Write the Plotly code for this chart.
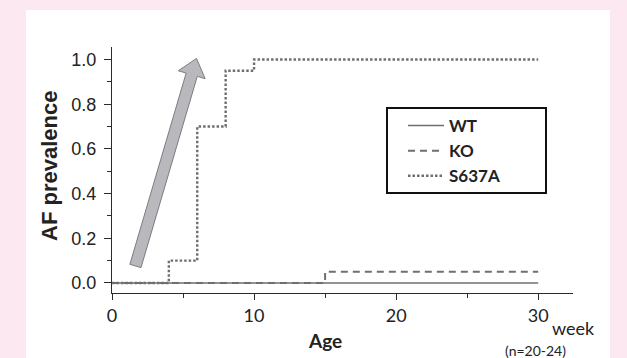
import plotly.graph_objects as go

# ---- data ----
wt_age = [0, 30]
wt_prev = [0.0, 0.0]
ko_age = [0, 15, 30]
ko_prev = [0.0, 0.05, 0.05]
s637a_age = [0, 4, 6, 8, 10, 30]
s637a_prev = [0.0, 0.1, 0.7, 0.95, 1.0, 1.0]

x_ticks = [0, 10, 20, 30]
y_ticks = [0.0, 0.2, 0.4, 0.6, 0.8, 1.0]
y_tick_labels = ["0.0", "0.2", "0.4", "0.6", "0.8", "1.0"]

# ---- layout geometry ----
W, H = 627, 358
ML, MR, MT, MB = 112, 54, 47, 65
XR = [0, 32.45]
YR = [-0.045, 1.056]
PW = W - ML - MR
PH = H - MT - MB

def to_px(x, y):
    return (ML + (x - XR[0]) / (XR[1] - XR[0]) * PW,
            MT + (YR[1] - y) / (YR[1] - YR[0]) * PH)

def to_data(px, py):
    return (XR[0] + (px - ML) / PW * (XR[1] - XR[0]),
            YR[1] - (py - MT) / PH * (YR[1] - YR[0]))

def px_x(p):
    return (p - ML) / PW

def px_y(p):
    return (H - MB - p) / PH

# big gray arrow (decoration) tail / tip in data units
ARROW_TAIL = (1.65, 0.076)
ARROW_TIP = (5.95, 1.005)

def arrow_path(tail, tip, shaft=5.8, head=14.0, head_len=17.0):
    tx, ty = to_px(*tail)
    hx, hy = to_px(*tip)
    dx, dy = hx - tx, hy - ty
    L = (dx * dx + dy * dy) ** 0.5
    ux, uy = dx / L, dy / L
    nx, ny = -uy, ux
    bx, by = hx - ux * head_len, hy - uy * head_len
    pts = [
        (tx + nx * shaft, ty + ny * shaft),
        (bx + nx * shaft, by + ny * shaft),
        (bx + nx * head, by + ny * head),
        (hx, hy),
        (bx - nx * head, by - ny * head),
        (bx - nx * shaft, by - ny * shaft),
        (tx - nx * shaft, ty - ny * shaft),
    ]
    dpts = [to_data(*p) for p in pts]
    return "M " + " L ".join(f"{x:.4f},{y:.4f}" for x, y in dpts) + " Z"

LINE_C = "#6f6f6f"
AXIS_C = "#2b2b2b"
TEXT_C = "#222222"

fig = go.Figure()
fig.add_trace(go.Scatter(x=wt_age, y=wt_prev, mode="lines", name="WT",
                         line=dict(color=LINE_C, width=1.6, shape="hv"),
                         legendgroup="a"))
fig.add_trace(go.Scatter(x=ko_age, y=ko_prev, mode="lines", name="KO",
                         line=dict(color=LINE_C, width=2, dash="7px,5px", shape="hv"),
                         legendgroup="b"))
fig.add_trace(go.Scatter(x=s637a_age, y=s637a_prev, mode="lines", name="S637A",
                         line=dict(color=LINE_C, width=2.4, dash="2.5px,2px", shape="hv"),
                         legendgroup="c"))

fig.update_layout(
    width=W, height=H,
    margin=dict(l=ML, r=MR, t=MT, b=MB, pad=0),
    paper_bgcolor="#fce8f1",
    plot_bgcolor="white",
    showlegend=True,
    legend=dict(
        x=px_x(403), y=px_y(108),
        xanchor="left", yanchor="top",
        bgcolor="rgba(0,0,0,0)", borderwidth=0,
        font=dict(family="Lato", size=17, color=TEXT_C, weight="bold"),
        traceorder="grouped", tracegroupgap=0,
        itemwidth=36,
    ),
    xaxis=dict(
        range=XR, tickvals=x_ticks, ticktext=[str(v) for v in x_ticks],
        showline=True, linecolor=AXIS_C, linewidth=1.4,
        ticks="outside", ticklen=6, tickcolor=AXIS_C, tickwidth=1.4,
        minor=dict(dtick=5, tick0=0, ticks="outside", ticklen=4,
                   tickcolor=AXIS_C, tickwidth=1.4),
        showgrid=False, zeroline=False,
        tickfont=dict(family="Lato", size=18, color=TEXT_C),
        ticklabelstandoff=0,
    ),
    yaxis=dict(
        range=YR, tickvals=y_ticks, ticktext=y_tick_labels,
        showline=True, linecolor=AXIS_C, linewidth=1.4,
        ticks="outside", ticklen=7, tickcolor=AXIS_C, tickwidth=1.4,
        minor=dict(dtick=0.1, tick0=0, ticks="outside", ticklen=4,
                   tickcolor=AXIS_C, tickwidth=1.4),
        showgrid=False, zeroline=False,
        tickfont=dict(family="Liberation Sans Narrow, Arial", size=18, color=TEXT_C),
        ticklabelstandoff=4,
    ),
    shapes=[
        dict(type="rect", xref="paper", yref="paper",
             x0=px_x(26), x1=px_x(610), y0=-0.4, y1=px_y(10),
             fillcolor="white", line=dict(width=0), layer="below"),
        dict(type="rect", xref="paper", yref="paper",
             x0=px_x(387), x1=px_x(546), y0=px_y(193), y1=px_y(108),
             fillcolor="rgba(0,0,0,0)", line=dict(color="#111111", width=2),
             layer="above"),
        dict(type="path", xref="x", yref="y",
             path=arrow_path(ARROW_TAIL, ARROW_TIP),
             fillcolor="#b9b9bd", line=dict(color="#7c7c80", width=1),
             layer="above"),
    ],
    annotations=[
        dict(text="AF prevalence", xref="paper", yref="paper",
             x=px_x(49), y=px_y(166), textangle=-90,
             xanchor="center", yanchor="middle", showarrow=False,
             font=dict(family="Liberation Sans, Arial", size=22, color=TEXT_C, weight="bold")),
        dict(text="Age", xref="x", yref="paper", x=15, y=px_y(340),
             xanchor="center", yanchor="middle", showarrow=False,
             font=dict(family="Lato", size=19, color=TEXT_C, weight="bold")),
        dict(text="week", xref="x", yref="paper", x=30, y=px_y(328),
             xanchor="left", yanchor="middle", xshift=12, showarrow=False,
             font=dict(family="Lato", size=18, color=TEXT_C)),
        dict(text="(n=20-24)", xref="x", yref="paper", x=30, y=px_y(350),
             xanchor="center", yanchor="middle", xshift=-3, showarrow=False,
             font=dict(family="Lato", size=14, color=TEXT_C)),
    ],
)

fig.write_html("out.html", config={"displayModeBar": False},
               post_script="document.body.style.margin='0';")
